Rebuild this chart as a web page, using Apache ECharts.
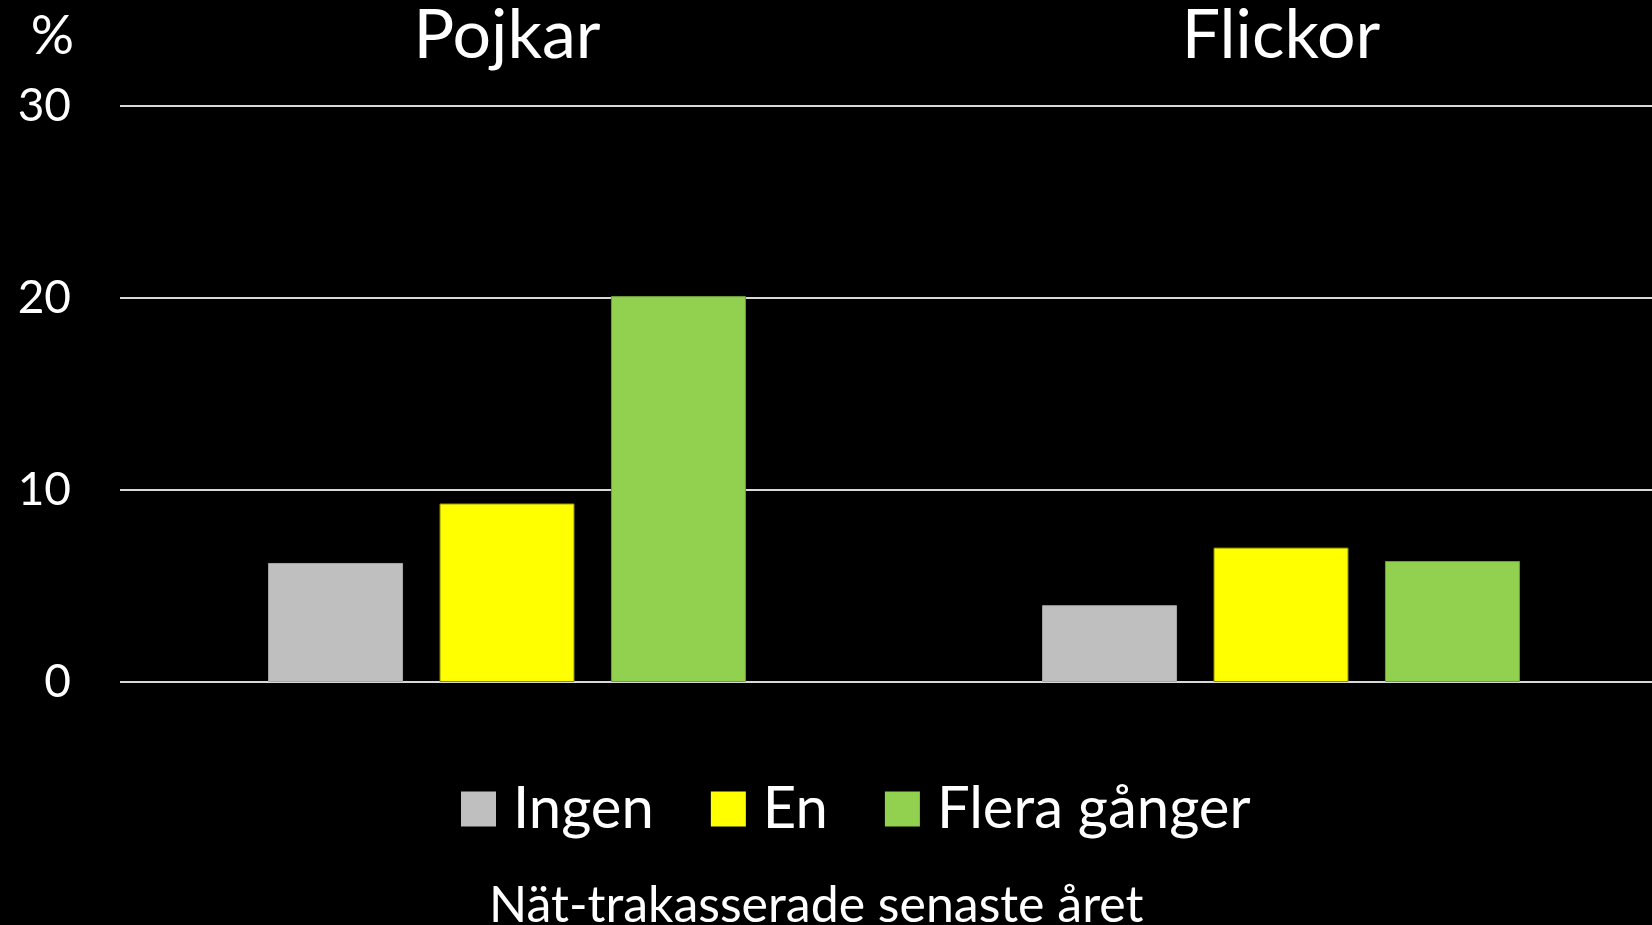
<!DOCTYPE html>
<html>
<head>
<meta charset="utf-8">
<script src="https://cdn.jsdelivr.net/npm/echarts@6/dist/echarts.min.js"></script>
<style>
  html, body { margin: 0; padding: 0; background: #000; }
  #chart { width: 1652px; height: 925px; }
</style>
</head>
<body>
<div id="chart"></div>
<script>
// data
const groups = ['Pojkar', 'Flickor'];
const seriesNames = ['Ingen', 'En', 'Flera gånger'];
const ingen = [6.2, 4.0];
const en = [9.3, 7.0];
const flera = [20.1, 6.3];
const yTicks = [0, 10, 20, 30];

const font = 'Lato';
const colors = ['#bfbfbf', '#ffff00', '#92d050'];
const borders = ['#a6a6a6', '#8c8c00', '#6f9e3c'];

const chart = echarts.init(document.getElementById('chart'));

const values = [ingen, en, flera];

const option = {
    backgroundColor: '#000',
    animation: false,
    textStyle: { fontFamily: font, color: '#fff' },
    title: {
        text: 'Nät-trakasserade senaste året',
        left: 484,
        top: 876,
        textStyle: { color: '#fff', fontSize: 50, fontWeight: 'normal', fontFamily: font }
    },
    legend: {
        data: seriesNames,
        left: 456,
        top: 775,
        itemWidth: 35,
        itemHeight: 35,
        itemGap: 57,
        icon: 'rect',
        itemStyle: { borderWidth: 0 },
        textStyle: { color: '#fff', fontSize: 58, fontFamily: font, padding: [0, 0, 0, 12] }
    },
    grid: {
        left: 120,
        top: 106,
        width: 1548,
        height: 576,
        outerBoundsMode: 'none',
        containLabel: false
    },
    xAxis: {
        type: 'category',
        position: 'top',
        data: groups,
        axisLine: { show: false },
        axisTick: { show: false },
        axisLabel: { color: '#fff', fontSize: 68, fontFamily: font, margin: 36 }
    },
    yAxis: {
        type: 'value',
        min: yTicks[0],
        max: yTicks[yTicks.length - 1],
        interval: 10,
        name: '%',
        nameLocation: 'end',
        nameGap: 42,
        nameTextStyle: { color: '#fff', fontSize: 54, fontFamily: font, align: 'right', padding: [0, 46, 0, 0] },
        axisLine: { show: false },
        axisTick: { show: false },
        axisLabel: { color: '#fff', fontSize: 46, fontFamily: font, margin: 49 },
        splitLine: { lineStyle: { color: '#d9d9d9', width: 2 } }
    },
    series: seriesNames.map((name, i) => ({
        name: name,
        type: 'bar',
        data: values[i],
        barWidth: 135,
        barGap: '27%',
        itemStyle: { color: colors[i], borderColor: borders[i], borderWidth: 1 }
    }))
};

chart.setOption(option);
</script>
</body>
</html>
